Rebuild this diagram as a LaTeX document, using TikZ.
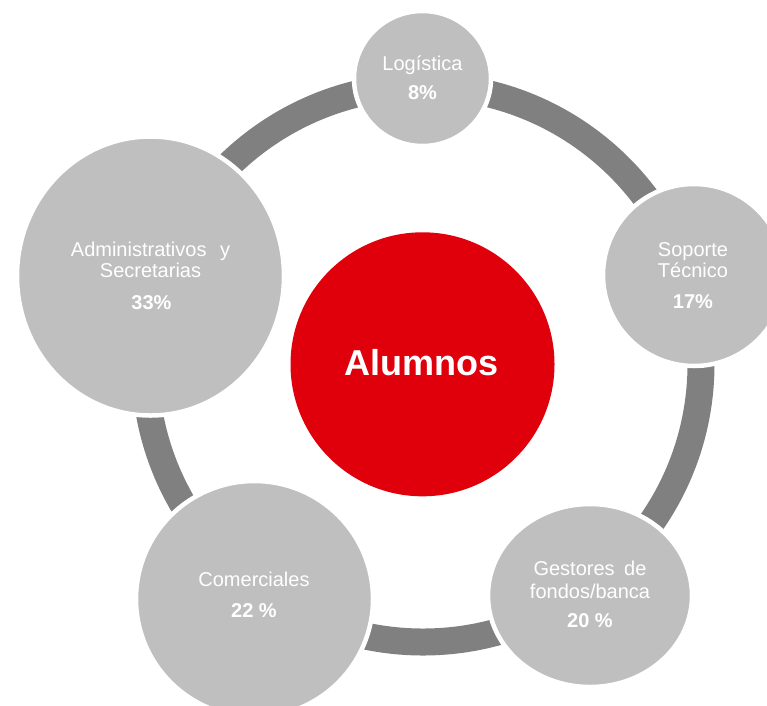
\documentclass[tikz,border=0pt]{standalone}
\usepackage{fontspec}
\setmainfont{Liberation Sans}
\usetikzlibrary{shapes.geometric}
\definecolor{ringgray}{RGB}{128,128,128}
\definecolor{bubblegray}{RGB}{191,191,191}
\definecolor{alured}{RGB}{224,0,11}
\begin{document}
\begin{tikzpicture}[x=1pt,y=-1pt,
  bubble/.style={ellipse, fill=bubblegray, draw=white, line width=4.5pt, inner sep=0pt},
  lbl/.style={anchor=base, text=white, inner sep=0pt, font=\fontsize{20}{24}\selectfont},
  pct/.style={anchor=base, text=white, inner sep=0pt, font=\fontsize{20}{24}\selectfont\bfseries}]
\useasboundingbox (0,0) rectangle (767,705);
\clip (0,0) rectangle (767,705);
\coordinate (c) at (423,364);
\draw[ringgray, line width=27pt] (c) circle[radius=278pt];
% outer bubbles
\node[bubble, minimum width=137pt, minimum height=135pt] (log) at (422.5,78.5) {};
\node[bubble, minimum width=182pt, minimum height=182pt] (sop) at (694,275) {};
\node[bubble, minimum width=267pt, minimum height=279pt] (adm) at (150.5,276) {};
\node[bubble, minimum width=237pt, minimum height=236pt] (com) at (254.5,599) {};
\node[bubble, minimum width=204pt, minimum height=183pt] (ges) at (590,595.5) {};
% center
\node[circle, fill=alured, inner sep=0pt, minimum size=264pt] (alu) at (422.5,364.3) {};
\node[anchor=base, text=white, inner sep=0pt, font=\fontsize{36}{40}\selectfont\bfseries] (alut) at (421.5,375.5) {Alumnos};
% labels
\node[lbl] (log1) at (422.5,70) {Logística};
\node[pct] (log2) at (422.5,99) {8\%};
\node[lbl] (sop1) at (693,256.5) {Soporte};
\node[lbl] (sop2) at (693,277.5) {Técnico};
\node[pct] (sop3) at (693,308) {17\%};
\node[lbl] (adm1) at (150.5,256) {Administrativos\hspace{8pt} y};
\node[lbl] (adm2) at (150.5,277.7) {Secretarias};
\node[pct] (adm3) at (151.5,309) {33\%};
\node[lbl] (com1) at (254,586) {Comerciales};
\node[pct] (com2) at (254,617) {22 \%};
\node[lbl] (ges1) at (590,575) {Gestores\hspace{4pt} de};
\node[lbl] (ges2) at (590,598.3) {fondos/banca};
\node[pct] (ges3) at (590,627.7) {20 \%};
\end{tikzpicture}
\end{document}
